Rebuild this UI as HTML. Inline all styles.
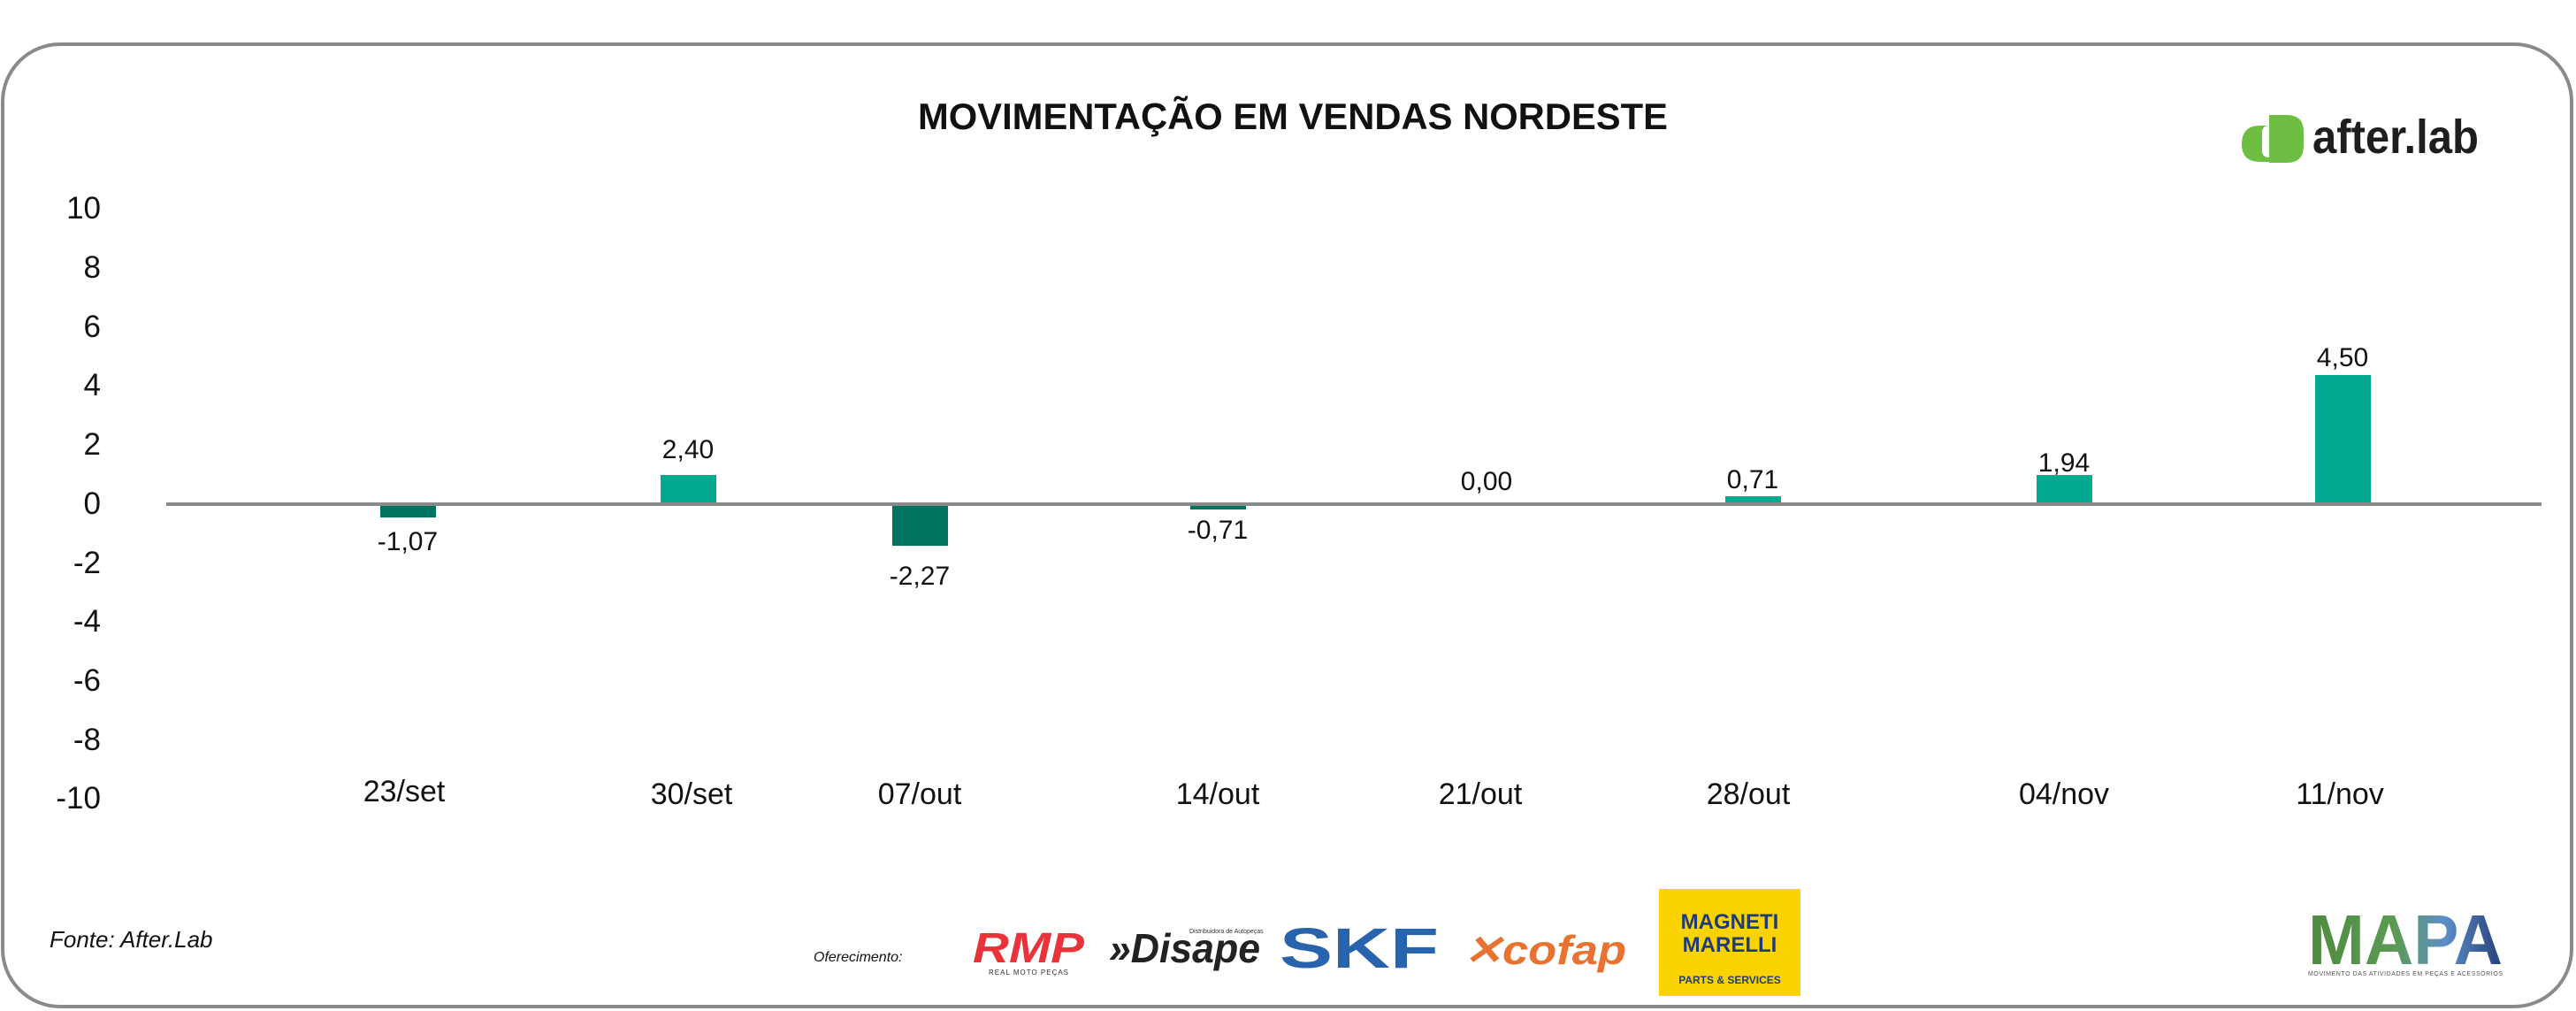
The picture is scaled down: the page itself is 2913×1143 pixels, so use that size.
<!DOCTYPE html>
<html><head><meta charset="utf-8"><style>
html,body{margin:0;padding:0;background:#fff;width:2913px;height:1143px;overflow:hidden}
svg{display:block}
text{font-family:"Liberation Sans",sans-serif}
</style></head><body>
<svg width="2913" height="1143" viewBox="0 0 2913 1143" xmlns="http://www.w3.org/2000/svg">
<defs>
<linearGradient id="mg" x1="0" x2="1" y1="0" y2="0">
<stop offset="0" stop-color="#4f8a3e"/><stop offset="0.45" stop-color="#5c9a55"/><stop offset="0.7" stop-color="#5d8fc8"/><stop offset="1" stop-color="#24407a"/></linearGradient>
</defs>
<rect x="3" y="50" width="2905" height="1088" rx="65" ry="65" fill="#fff" stroke="#8a8a8c" stroke-width="4"/>
<text x="1038" y="146" font-size="42" font-weight="bold" fill="#111" textLength="848" lengthAdjust="spacingAndGlyphs">MOVIMENTAÇÃO EM VENDAS NORDESTE</text>
<!-- logo after.lab -->
<path d="M2535 163 q0-21 21-21 h10 v41 h-10 q-21 0-21-20z" fill="#6fbe44"/>
<path d="M2566 130 h20 q19 0 19 19 v16 q0 19-19 19 h-20z" fill="#6fbe44"/>
<path d="M2566 142 q-8 0-8 8 v20 q0 8 8 8z" fill="#fff"/>
<text x="2615" y="173" font-size="54" font-weight="bold" fill="#1e1e1e" textLength="188" lengthAdjust="spacingAndGlyphs">after.lab</text>
<!-- y axis labels -->
<g font-size="35" fill="#111" text-anchor="end">
<text x="114" y="247">10</text><text x="114" y="314">8</text><text x="114" y="381">6</text>
<text x="114" y="447">4</text><text x="114" y="514">2</text><text x="114" y="581">0</text>
<text x="114" y="648">-2</text><text x="114" y="714">-4</text><text x="114" y="781">-6</text>
<text x="114" y="848">-8</text><text x="114" y="914">-10</text>
</g>
<!-- bars -->
<rect x="430" y="570" width="63" height="15" fill="#007461"/>
<rect x="747" y="537" width="63" height="33" fill="#00a98f"/>
<rect x="1009" y="570" width="63" height="47" fill="#007461"/>
<rect x="1346" y="570" width="63" height="6" fill="#007461"/>
<rect x="1951" y="561" width="63" height="9" fill="#00a98f"/>
<rect x="2303" y="537" width="63" height="33" fill="#00a98f"/>
<rect x="2618" y="424" width="63" height="146" fill="#00a98f"/>
<rect x="188" y="568" width="2686" height="4" fill="#8a8a8c"/>
<!-- value labels -->
<g font-size="30" fill="#111" text-anchor="middle">
<text x="461" y="622">-1,07</text><text x="778" y="518">2,40</text>
<text x="1040" y="661">-2,27</text><text x="1377" y="609">-0,71</text>
<text x="1681" y="554">0,00</text><text x="1982" y="552">0,71</text>
<text x="2334" y="533">1,94</text><text x="2649" y="414">4,50</text>
</g>
<!-- x labels -->
<g font-size="34" fill="#111" text-anchor="middle">
<text x="457" y="906">23/set</text><text x="782" y="909">30/set</text>
<text x="1040" y="909">07/out</text><text x="1377" y="909">14/out</text>
<text x="1674" y="909">21/out</text><text x="1977" y="909">28/out</text>
<text x="2334" y="909">04/nov</text><text x="2646" y="909">11/nov</text>
</g>
<!-- footer -->
<text x="56" y="1071" font-size="26" font-style="italic" fill="#111">Fonte: After.Lab</text>
<text x="920" y="1087" font-size="16" font-style="italic" fill="#111">Oferecimento:</text>
<text x="1100" y="1088" font-size="48" font-weight="bold" font-style="italic" fill="#e8333a" textLength="126" lengthAdjust="spacingAndGlyphs">RMP</text>
<text x="1118" y="1102" font-size="8" fill="#333" letter-spacing="1">REAL MOTO PEÇAS</text>
<text x="1254" y="1088" font-size="46" font-weight="bold" font-style="italic" fill="#222" textLength="171" lengthAdjust="spacingAndGlyphs">»Disape</text>
<text x="1345" y="1055" font-size="7" fill="#333">Distribuidora de Autopeças</text>
<text x="1447" y="1094" font-size="64" font-weight="bold" fill="#2863ad" textLength="180" lengthAdjust="spacingAndGlyphs">SKF</text>
<text x="1655" y="1090" font-size="46" font-weight="bold" font-style="italic" fill="#e87330" textLength="184" lengthAdjust="spacingAndGlyphs">✕cofap</text>
<rect x="1876" y="1005" width="160" height="121" fill="#fbd300"/>
<text x="1956" y="1050" font-size="24" font-weight="bold" fill="#1f3b7a" text-anchor="middle">MAGNETI</text>
<text x="1956" y="1076" font-size="24" font-weight="bold" fill="#1f3b7a" text-anchor="middle">MARELLI</text>
<text x="1956" y="1112" font-size="12" font-weight="bold" fill="#1f3b7a" text-anchor="middle">PARTS &amp; SERVICES</text>
<text x="2610" y="1090" font-size="80" font-weight="bold" fill="url(#mg)" textLength="220" lengthAdjust="spacingAndGlyphs">MAPA</text>
<text x="2610" y="1103" font-size="7" fill="#555" textLength="220" lengthAdjust="spacing">MOVIMENTO DAS ATIVIDADES EM PEÇAS E ACESSÓRIOS</text>
</svg>
</body></html>
